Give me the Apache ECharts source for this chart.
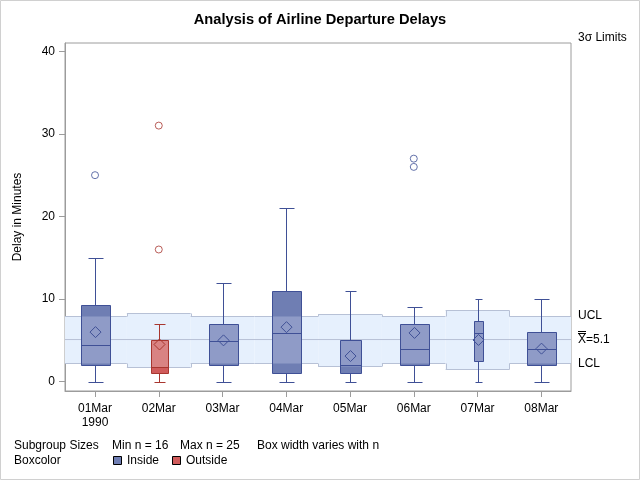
<!DOCTYPE html>
<html>
<head>
<meta charset="utf-8">
<script src="https://cdn.jsdelivr.net/npm/echarts@6/dist/echarts.min.js"></script>
<style>html,body{margin:0;padding:0;background:#fff}#c{width:640px;height:480px}</style>
</head>
<body>
<div id="c"></div>
<script>
// ---- data ----
const categories = ['01Mar', '02Mar', '03Mar', '04Mar', '05Mar', '06Mar', '07Mar', '08Mar'];
const sizes      = [25, 20, 25, 25, 21, 25, 16, 25];
const lowWhisker = [0, 0, 0, 0, 0, 0, 0, 0];
const q1         = [2, 1, 2, 1, 1, 2, 2.5, 2];
const median     = [4.4, 1.8, 4.9, 5.9, 2, 4, 5.9, 4];
const q3         = [9.3, 5, 7, 11, 5, 7, 7.4, 6];
const highWhisker= [15, 7, 12, 21, 11, 9, 10, 10];
const means      = [6, 4.5, 5, 6.6, 3.1, 5.9, 5.05, 4];
const ucl        = [8.0, 8.3, 8.0, 8.0, 8.2, 8.0, 8.65, 8.0];
const lcl        = [2.2, 1.75, 2.2, 2.2, 1.95, 2.2, 1.5, 2.2];
const boxColor   = ['Inside', 'Outside', 'Inside', 'Inside', 'Inside', 'Inside', 'Inside', 'Inside'];
const outliers   = [[1, 25], [2, 16], [2, 31], [6, 26], [6, 27]];
const centerLine = 5.1;
const yTicks     = [0, 10, 20, 30, 40];
const xTicks     = [1, 2, 3, 4, 5, 6, 7, 8];

const FONT = 'Liberation Sans, Arial, sans-serif';
const XMIN = 0.529, XMAX = 8.466;
const PAL = {
  Inside:  { dark: '#6f7eb3', light: '#8f9bc7', line: '#3f5096' },
  Outside: { dark: '#d05b5b', light: '#d98383', line: '#a8362f' }
};
const crisp = v => Math.round(v) + 0.5;

const chart = echarts.init(document.getElementById('c'), null, { renderer: 'canvas' });

function renderBand(params, api) {
  const idx = params.dataIndex;
  const i = api.value(0);
  const x0 = api.coord([Math.max(i - 0.5, XMIN), 0])[0];
  const x1 = api.coord([Math.min(i + 0.5, XMAX), 0])[0];
  const yu = crisp(api.coord([i, api.value(1)])[1]);
  const yl = crisp(api.coord([i, api.value(2)])[1]);
  const edge = { stroke: '#b7c1d6', lineWidth: 1 };
  const children = [
    { type: 'rect', shape: { x: x0, y: yu, width: x1 - x0, height: yl - yu }, style: { fill: '#e6f0fd' } },
    { type: 'line', shape: { x1: x0, y1: yu, x2: x1, y2: yu }, style: edge },
    { type: 'line', shape: { x1: x0, y1: yl, x2: x1, y2: yl }, style: edge }
  ];
  if (idx > 0) {
    const pyu = crisp(api.coord([i, ucl[idx - 1]])[1]);
    const pyl = crisp(api.coord([i, lcl[idx - 1]])[1]);
    const xb = crisp(x0);
    children.push({ type: 'line', shape: { x1: xb, y1: pyu, x2: xb, y2: yu }, style: edge });
    children.push({ type: 'line', shape: { x1: xb, y1: pyl, x2: xb, y2: yl }, style: edge });
  }
  return { type: 'group', children };
}

function renderBox(params, api) {
  const idx = params.dataIndex;
  const i = api.value(0);
  const n = sizes[idx];
  const w = 9 + (n - 16) * 20 / 9;
  const cap = 3.7 + 0.37 * w;
  const cx = crisp(api.coord([i, 0])[0]);
  const y = v => crisp(api.coord([i, v])[1]);
  const pal = PAL[boxColor[idx]];
  const yLow = y(api.value(1)), yQ1 = y(api.value(2)), yMed = y(api.value(3));
  const yQ3 = y(api.value(4)), yHigh = y(api.value(5)), yMean = api.coord([i, api.value(6)])[1];
  const yU = y(ucl[idx]), yL = y(lcl[idx]);
  const bx0 = Math.round(cx - w / 2) + 0.5, bx1 = Math.round(cx + w / 2) + 0.5;
  const cx0 = Math.round(cx - cap / 2) + 0.5, cx1 = Math.round(cx + cap / 2) + 0.5;
  const ls = { stroke: pal.line, lineWidth: 1 };
  const children = [];
  children.push({ type: 'line', shape: { x1: cx, y1: yQ1, x2: cx, y2: yLow }, style: ls });
  children.push({ type: 'line', shape: { x1: cx, y1: yQ3, x2: cx, y2: yHigh }, style: ls });
  children.push({ type: 'line', shape: { x1: cx0, y1: yLow, x2: cx1, y2: yLow }, style: ls });
  children.push({ type: 'line', shape: { x1: cx0, y1: yHigh, x2: cx1, y2: yHigh }, style: ls });
  children.push({ type: 'rect', shape: { x: bx0, y: yQ3, width: bx1 - bx0, height: yQ1 - yQ3 }, style: { fill: pal.dark } });
  const lt = Math.max(yQ3, yU), lb = Math.min(yQ1, yL);
  if (lb > lt) {
    children.push({ type: 'rect', shape: { x: bx0, y: lt, width: bx1 - bx0, height: lb - lt }, style: { fill: pal.light } });
  }
  children.push({ type: 'rect', shape: { x: bx0, y: yQ3, width: bx1 - bx0, height: yQ1 - yQ3 }, style: { fill: null, stroke: pal.line, lineWidth: 1 } });
  children.push({ type: 'line', shape: { x1: bx0, y1: yMed, x2: bx1, y2: yMed }, style: ls });
  const d = 5.5, mx = cx, my = yMean;
  children.push({ type: 'polygon', shape: { points: [[mx, my - d], [mx + d, my], [mx, my + d], [mx - d, my]] }, style: { fill: null, stroke: pal.line, lineWidth: 1 } });
  return { type: 'group', children };
}

const bandData = categories.map((c, k) => [xTicks[k], ucl[k], lcl[k]]);
const boxData = categories.map((c, k) => [xTicks[k], lowWhisker[k], q1[k], median[k], q3[k], highWhisker[k], means[k]]);
const outInside = outliers.filter(p => boxColor[p[0] - 1] === 'Inside');
const outOutside = outliers.filter(p => boxColor[p[0] - 1] === 'Outside');

const txt = (x, y, text, extra) => Object.assign({
  type: 'text', x, y,
  style: Object.assign({ text, fill: '#000', font: '12px ' + FONT, textVerticalAlign: 'middle' }, extra || {})
});

const outlierSeries = (data, pal) => ({
  type: 'scatter', data, symbol: 'circle', symbolSize: 7, z: 4,
  itemStyle: { color: 'rgba(255,255,255,0)', borderColor: pal.line, borderWidth: 1 }
});

chart.setOption({
  animation: false,
  backgroundColor: '#fff',
  grid: { left: 65, right: 69, top: 43, bottom: 89, show: true, borderColor: '#9c9c9c', borderWidth: 1, containLabel: false },
  xAxis: {
    type: 'value', min: XMIN, max: XMAX,
    axisLine: { show: true, onZero: false, lineStyle: { color: '#9c9c9c' } },
    axisTick: { show: true, length: 6, customValues: xTicks, lineStyle: { color: '#9c9c9c' } },
    axisLabel: {
      customValues: xTicks, margin: 11, color: '#000', fontSize: 12, fontFamily: FONT, lineHeight: 14,
      formatter: v => { const k = Math.round(v) - 1; return k === 0 ? categories[k] + '\n1990' : categories[k]; }
    },
    splitLine: { show: false }
  },
  yAxis: {
    type: 'value', min: -1.13, max: 41.0,
    name: 'Delay in Minutes', nameLocation: 'middle', nameRotate: 90, nameGap: 41,
    nameTextStyle: { color: '#000', fontSize: 12, fontFamily: FONT },
    axisLine: { show: true, onZero: false, lineStyle: { color: '#9c9c9c' } },
    axisTick: { show: true, length: 6, customValues: yTicks, lineStyle: { color: '#9c9c9c' } },
    axisLabel: { customValues: yTicks, margin: 10, color: '#000', fontSize: 12, fontFamily: FONT },
    splitLine: { show: false }
  },
  series: [
    {
      type: 'custom', name: 'limits', renderItem: renderBand, data: bandData, z: 1, clip: true,
      encode: { x: 0, y: [1, 2] }
    },
    {
      type: 'line', name: 'center', data: [[XMIN, centerLine], [XMAX, centerLine]], symbol: 'none', z: 2,
      lineStyle: { color: '#b7c1d6', width: 1 }, silent: true
    },
    {
      type: 'custom', name: 'boxes', renderItem: renderBox, data: boxData, z: 3,
      encode: { x: 0, y: [1, 2, 3, 4, 5, 6] }
    },
    outlierSeries(outInside, PAL.Inside),
    outlierSeries(outOutside, PAL.Outside)
  ],
  graphic: [
    { type: 'rect', shape: { x: 0.5, y: 0.5, width: 639, height: 479 }, style: { fill: null, stroke: '#d0d0d0', lineWidth: 1 }, silent: true },
    txt(320, 20, 'Analysis of Airline Departure Delays', { font: 'bold 14.67px ' + FONT, textAlign: 'center' }),
    txt(578, 38, '3σ Limits'),
    txt(578, 316, 'UCL'),
    txt(578, 340, 'X=5.1'),
    { type: 'line', shape: { x1: 578, y1: 331.5, x2: 586, y2: 331.5 }, style: { stroke: '#000', lineWidth: 1 } },
    { type: 'line', shape: { x1: 578, y1: 333.5, x2: 586, y2: 333.5 }, style: { stroke: '#000', lineWidth: 1 } },
    txt(578, 364, 'LCL'),
    txt(14, 446, 'Subgroup Sizes'),
    txt(112, 446, 'Min n = ' + Math.min(...sizes)),
    txt(180, 446, 'Max n = ' + Math.max(...sizes)),
    txt(257, 446, 'Box width varies with n'),
    txt(14, 461, 'Boxcolor'),
    { type: 'rect', shape: { x: 113.5, y: 456.5, width: 8, height: 8 }, style: { fill: PAL.Inside.dark, stroke: '#000', lineWidth: 1 } },
    txt(127, 461, 'Inside'),
    { type: 'rect', shape: { x: 172.5, y: 456.5, width: 8, height: 8 }, style: { fill: PAL.Outside.dark, stroke: '#000', lineWidth: 1 } },
    txt(186, 461, 'Outside')
  ]
});
</script>
</body>
</html>
